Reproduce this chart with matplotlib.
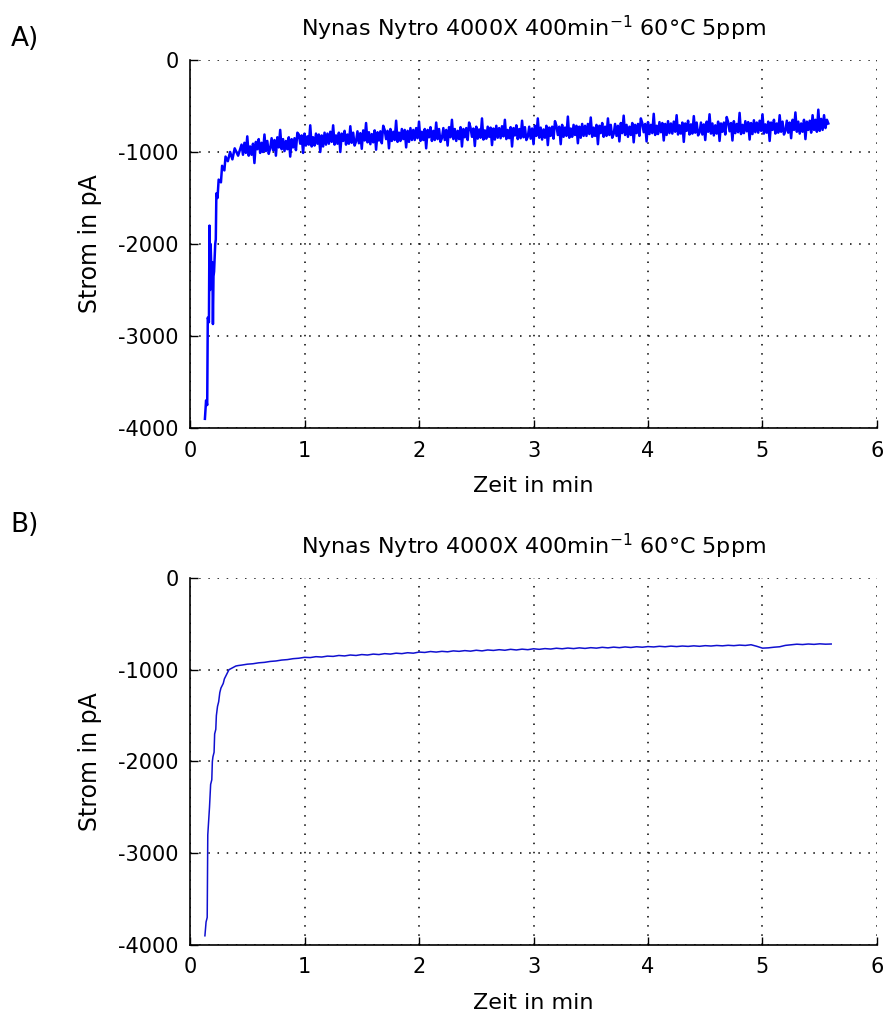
import numpy as np
import matplotlib
matplotlib.use("Agg")
import matplotlib.pyplot as plt

title = "Nynas Nytro 4000X 400min$^{-1}$ 60°C 5ppm"
x_label = "Zeit in min"
y_label = "Strom in pA"
x_ticks = [0, 1, 2, 3, 4, 5, 6]
y_ticks = [-4000, -3000, -2000, -1000, 0]

# A) raw signal: start-up phase
a_start_t = [0.13, 0.14, 0.15, 0.155, 0.165, 0.17, 0.175, 0.18, 0.19, 0.195, 0.20, 0.205,
             0.21, 0.22, 0.225, 0.23, 0.24, 0.25, 0.27, 0.28, 0.30, 0.31, 0.33, 0.35,
             0.37, 0.39, 0.42]
a_start_v = [-3900, -3700, -3750, -2800, -2850, -1800, -2500, -2000, -2450, -2200, -2870, -2350,
             -2300, -2000, -1950, -1450, -1500, -1300, -1330, -1150, -1200, -1050, -1100, -1000,
             -1080, -960, -1040]
# A) raw signal: noisy plateau, sampled every 0.0125 min from 0.45 to 5.575
a_noise_v = [
    -920, -1030, -900, -1010, -830, -1040, -940, -1030, -910, -1120, -890, -970, -860, -1010, -900, -1000, -810, -990, -880, -1020,
    -960, -850, -980, -870, -1040, -840, -950, -760, -970, -860, -990, -880, -970, -840, -1050, -860, -950, -850, -980, -790,
    -810, -910, -820, -1010, -800, -930, -830, -920, -710, -940, -840, -930, -800, -910, -810, -1000, -820, -940, -790, -920,
    -800, -910, -780, -890, -710, -920, -820, -910, -790, -1000, -800, -880, -770, -920, -810, -910, -720, -900, -790, -930,
    -885, -775, -905, -795, -965, -765, -875, -685, -895, -785, -915, -805, -895, -765, -975, -785, -875, -775, -905, -715,
    -760, -860, -770, -960, -750, -880, -780, -870, -660, -890, -790, -880, -750, -860, -760, -950, -770, -890, -740, -870,
    -760, -870, -740, -850, -670, -880, -780, -870, -750, -960, -760, -840, -730, -880, -770, -870, -680, -860, -750, -890,
    -850, -740, -870, -760, -930, -730, -840, -650, -860, -750, -880, -770, -860, -730, -940, -750, -840, -740, -870, -680,
    -735, -835, -745, -935, -725, -855, -755, -845, -635, -865, -765, -855, -725, -835, -735, -925, -745, -865, -715, -845,
    -740, -850, -720, -830, -650, -860, -760, -850, -730, -940, -740, -820, -710, -860, -750, -850, -660, -840, -730, -870,
    -835, -725, -855, -745, -915, -715, -825, -635, -845, -735, -865, -755, -845, -715, -925, -735, -825, -725, -855, -665,
    -715, -815, -725, -915, -705, -835, -735, -825, -615, -845, -745, -835, -705, -815, -715, -905, -725, -845, -695, -825,
    -715, -825, -695, -805, -625, -835, -735, -825, -705, -915, -715, -795, -685, -835, -725, -825, -635, -815, -705, -845,
    -805, -695, -825, -715, -885, -685, -795, -605, -815, -705, -835, -725, -815, -685, -895, -705, -795, -695, -825, -635,
    -685, -785, -695, -885, -675, -805, -705, -795, -585, -815, -715, -805, -675, -785, -685, -875, -695, -815, -665, -795,
    -690, -800, -670, -780, -600, -810, -710, -800, -680, -890, -690, -770, -660, -810, -700, -800, -610, -790, -680, -820,
    -790, -680, -810, -700, -870, -670, -780, -590, -800, -690, -820, -710, -800, -670, -880, -690, -780, -680, -810, -620,
    -675, -775, -685, -875, -665, -795, -695, -785, -575, -805, -705, -795, -665, -775, -675, -865, -685, -805, -655, -785,
    -680, -790, -660, -770, -590, -800, -700, -790, -670, -880, -680, -760, -650, -800, -690, -790, -600, -780, -670, -810,
    -770, -660, -790, -680, -850, -650, -760, -570, -780, -670, -800, -690, -780, -650, -860, -670, -760, -660, -790, -600,
    -760, -650, -780, -540, -770, -640, -760, -600, -740, -650, -690,
]

# B) filtered signal: start-up phase
b_start_t = [0.13, 0.14, 0.15, 0.155, 0.165, 0.17, 0.18, 0.19, 0.195, 0.20, 0.21, 0.215,
             0.225, 0.23, 0.24, 0.25, 0.26, 0.27, 0.29, 0.30, 0.32, 0.34, 0.37, 0.40, 0.42]
b_start_v = [-3900, -3750, -3700, -2800, -2600, -2500, -2250, -2200, -2000, -1950, -1900, -1700,
             -1650, -1500, -1400, -1350, -1250, -1200, -1150, -1100, -1050, -1000, -980, -960, -955]
# B) filtered signal: plateau, sampled every 0.05 min from 0.45 to 5.6
b_plateau_v = [
    -950, -940, -935, -925, -920, -910, -905, -895, -890, -880,
    -875, -865, -868, -858, -862, -852, -855, -845, -850, -840,
    -845, -835, -840, -830, -835, -825, -830, -820, -825, -815,
    -820, -808, -812, -802, -808, -800, -805, -795, -800, -792,
    -798, -788, -795, -785, -790, -782, -788, -778, -785, -776,
    -782, -772, -778, -770, -775, -766, -772, -764, -770, -762,
    -768, -760, -765, -756, -762, -754, -760, -752, -758, -750,
    -755, -748, -752, -745, -750, -743, -748, -742, -746, -740,
    -745, -738, -742, -736, -740, -734, -738, -732, -736, -728,
    -745, -765, -762, -755, -750, -735, -728, -722, -726, -720,
    -724, -718, -722, -720,
]

a_t = np.concatenate([a_start_t, np.linspace(0.45, 5.575, len(a_noise_v))])
a_v = np.concatenate([a_start_v, a_noise_v])
b_t = np.concatenate([b_start_t, np.linspace(0.45, 5.6, len(b_plateau_v))])
b_v = np.concatenate([b_start_v, b_plateau_v])

plt.rcParams["font.family"] = ["DejaVu Sans"]
plt.rcParams["axes.unicode_minus"] = False

fig = plt.figure(figsize=(8.88, 10.15), dpi=100)
ax1 = fig.add_axes([0.214, 0.5783, 0.7736, 0.3626])
ax2 = fig.add_axes([0.214, 0.0690, 0.7736, 0.3616])

for ax, t, v, color, lw in [(ax1, a_t, a_v, "#0000ff", 1.8), (ax2, b_t, b_v, "#1010d0", 1.1)]:
    ax.plot(t, v, color=color, linewidth=lw)
    ax.set_xlim(0, 6)
    ax.set_ylim(-4000, 0)
    ax.set_xticks(x_ticks)
    ax.set_yticks(y_ticks)
    ax.grid(True, color="black", linestyle=(0, (1, 5)), linewidth=1.1)
    ax.spines["top"].set_visible(False)
    ax.spines["right"].set_visible(False)
    ax.spines["left"].set_linewidth(1.2)
    ax.spines["bottom"].set_linewidth(1.2)
    ax.tick_params(direction="in", length=6, width=1, labelsize=15)
    ax.tick_params(axis="x", pad=9)
    ax.tick_params(axis="y", pad=8)
    ax.set_title(title, fontsize=16, pad=17)
    ax.set_xlabel(x_label, fontsize=16, labelpad=11)
    ax.set_ylabel(y_label, fontsize=17, labelpad=12)

fig.text(0.012, 0.962, "A)", fontsize=19, va="center")
fig.text(0.012, 0.483, "B)", fontsize=19, va="center")

fig.savefig("out.png", dpi=100)
